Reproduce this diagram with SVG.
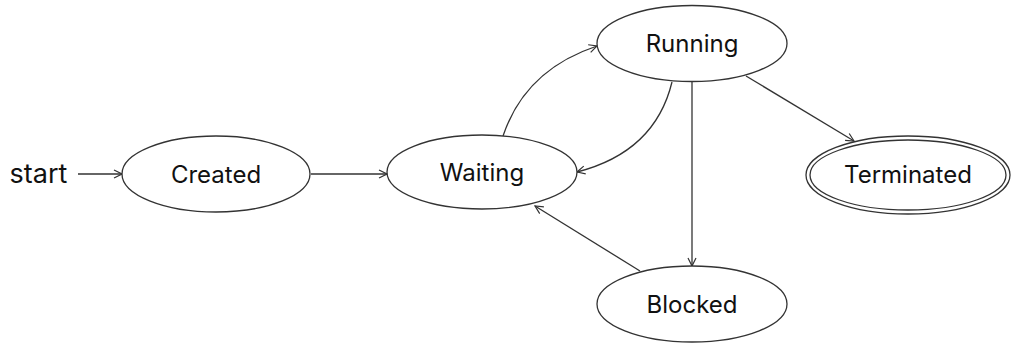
<svg xmlns="http://www.w3.org/2000/svg" width="1011" height="344" viewBox="0 0 1011 344">
<style>
.n{fill:#fff;stroke:#333;stroke-width:1.3}
.t{font-family:Inter,"Liberation Sans",sans-serif;font-size:24px;fill:#111;text-anchor:middle}
.e{fill:none;stroke:#333;stroke-width:1.3;marker-end:url(#a)}
</style>
<defs>
<marker id="a" markerWidth="10" markerHeight="10" refX="9" refY="5" orient="auto" markerUnits="userSpaceOnUse">
<path d="M1,1 L9,5 L1,9" fill="none" stroke="#333" stroke-width="1.2"/>
</marker>
</defs>
<rect width="1011" height="344" fill="#fff"/>
<g id="edges">
<path class="e" d="M78,174 L122,174"/>
<path class="e" d="M311,174 L387,174"/>
<path class="e" d="M503,136 Q525,70 597,46"/>
<path class="e" d="M672,82 Q655,152 577,172"/>
<path class="e" d="M692,82 L692,266"/>
<path class="e" d="M746,76 L854,141"/>
<path class="e" d="M640,271 L535,206"/>
</g>
<g id="start"><text class="t" x="38.5" y="183" style="font-size:27px">start</text></g>
<g id="created"><ellipse class="n" cx="216" cy="174" rx="94" ry="38"/><text class="t" x="216" y="182.5">Created</text></g>
<g id="waiting"><ellipse class="n" cx="482" cy="172" rx="95" ry="37"/><text class="t" x="482" y="180.5">Waiting</text></g>
<g id="running"><ellipse class="n" cx="692" cy="43.5" rx="95" ry="38"/><text class="t" x="692" y="52">Running</text></g>
<g id="blocked"><ellipse class="n" cx="692" cy="304" rx="95" ry="38"/><text class="t" x="692" y="312.5">Blocked</text></g>
<g id="terminated"><ellipse class="n" cx="908" cy="175" rx="102" ry="39"/><ellipse class="n" cx="908" cy="175" rx="98" ry="35"/><text class="t" x="908" y="183">Terminated</text></g>
</svg>
